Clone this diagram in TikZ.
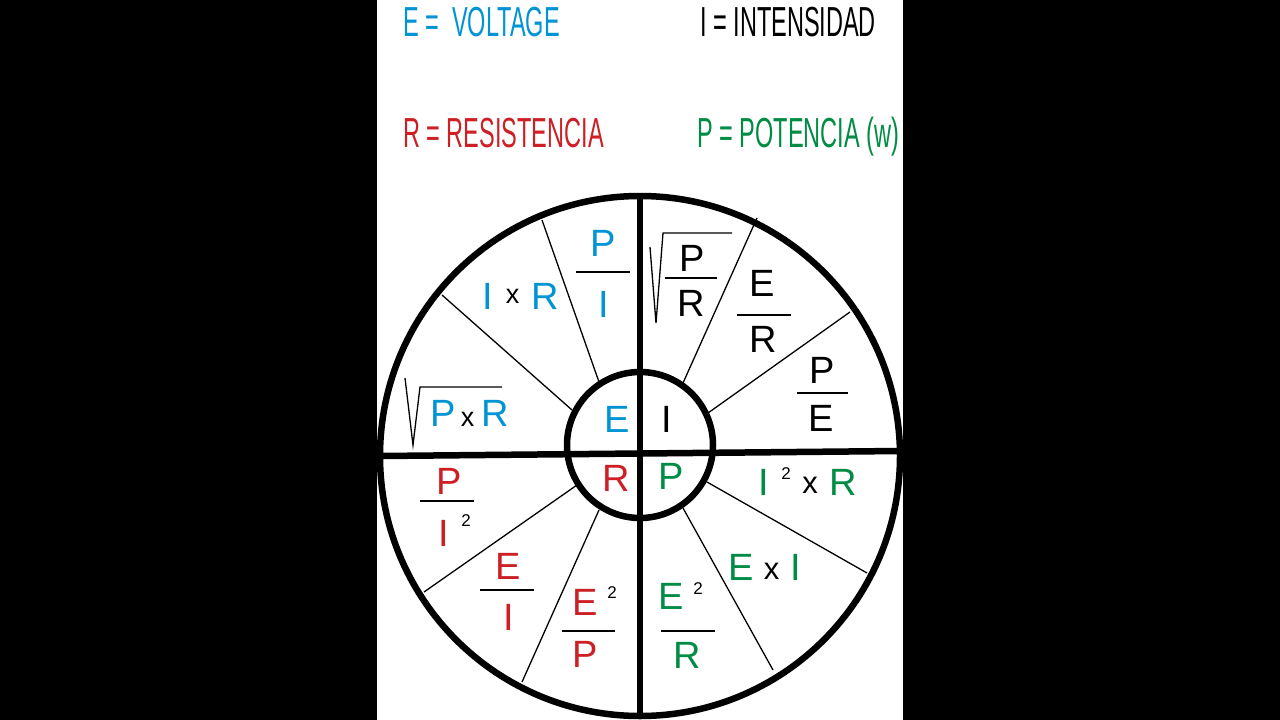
\documentclass[tikz,border=0pt]{standalone}
\usepackage{fontspec}
\setmainfont{Liberation Sans}
\newfontfamily\narrowfont[FakeStretch=0.56]{Liberation Sans}
\definecolor{volt}{RGB}{0,148,212}
\definecolor{resis}{RGB}{205,32,38}
\definecolor{poten}{RGB}{0,140,68}
\tikzset{
	letter/.style={inner sep=0pt, font=\fontsize{38}{40}\selectfont},
	keytext/.style={inner sep=0pt, anchor=base west, font=\narrowfont\fontsize{42}{46}\selectfont},
	xsign/.style={inner sep=0pt, font=\fontsize{27}{29}\selectfont},
	xsignbig/.style={inner sep=0pt, font=\fontsize{31}{33}\selectfont},
	sqr/.style={inner sep=0pt, font=\fontsize{17}{18}\selectfont},
	fbar/.style={line width=2.2pt},
	thinline/.style={line width=1.3pt},
	ring/.style={line width=6.5pt}
}

\begin{document}
\begin{tikzpicture}[x=1pt,y=-1pt]
				\useasboundingbox (0,0) rectangle (1280,720);
				\fill[black] (0,0) rectangle (1280,720);
				\fill[white] (377,0) rectangle (903,720);
				
				% what the letters mean
				\node[keytext, text=volt] (tE) at (403,36) {E =\ \ VOLTAGE};
				\node[keytext] (tI) at (700,36) {I = INTENSIDAD};
				\node[keytext, text=resis] (tR) at (403,147) {R = RESISTENCIA};
				\node[keytext, text=poten] (tP) at (697,147) {P = POTENCIA (w)};
				
				% the wheel
				\draw[thinline] (599,382) -- (542,220);
				\draw[thinline] (572,410) -- (442,295);
				\draw[thinline] (683,383) -- (757,218);
				\draw[thinline] (708,413) -- (850,312);
				\draw[thinline] (577,485) -- (424,592);
				\draw[thinline] (599,510) -- (522,682);
				\draw[thinline] (707,482) -- (867,573);
				\draw[thinline] (683,508) -- (773,670);
				\draw[ring] (640,456) circle [radius=260];
				\draw[ring] (640,445) circle [radius=73];
				\draw[ring] (640,196) -- (640,716);
				\draw[ring] (381,456) -- (900,451);
				
				% E
				\node[letter, text=volt] (P1) at (603,243) {P};
				\draw[fbar] (576,272) -- (630,272);
				\node[letter, text=volt] (I1) at (604,304) {I};
				\node[letter, text=volt] (I2) at (488,296) {I};
				\node[xsign] (x2) at (512.5,296.5) {x};
				\node[letter, text=volt] (R2) at (545,296) {R};
				\draw[thinline] (405,378) -- (413,445) -- (420,387) -- (502,387);
				\node[letter, text=volt] (P3) at (443.5,413.5) {P};
				\node[xsign] (x3) at (467.5,419) {x};
				\node[letter, text=volt] (R3) at (495,413.5) {R};
				
				% I
				\draw[thinline] (650,247) -- (656,323) -- (663,233) -- (732,233);
				\node[letter] (P4) at (692,258.5) {P};
				\draw[fbar] (665,278) -- (717,278);
				\node[letter] (R4) at (691,303.5) {R};
				\node[letter] (E5) at (762.5,283.5) {E};
				\draw[fbar] (737,315) -- (791,315);
				\node[letter] (R5) at (763.5,339.5) {R};
				\node[letter] (P6) at (822.5,370.5) {P};
				\draw[fbar] (797,393) -- (848,393);
				\node[letter] (E6) at (821,418) {E};
				
				% middle
				\node[letter, text=volt] (E) at (617.5,419.5) {E};
				\node[letter] (I) at (667,419.5) {I};
				\node[letter, text=resis] (R) at (616.5,478.5) {R};
				\node[letter, text=poten] (P) at (671,476) {P};
				
				% R
				\node[letter, text=resis] (P7) at (449,481) {P};
				\draw[fbar] (420,501) -- (474,501);
				\node[letter, text=resis] (I7) at (444,533.5) {I};
				\node[sqr] (s7) at (466,520.5) {2};
				\node[letter, text=resis] (E8) at (508.5,566) {E};
				\draw[fbar] (480,590) -- (534,590);
				\node[letter, text=resis] (I8) at (508.5,617) {I};
				\node[letter, text=resis] (E9) at (585,602) {E};
				\node[sqr] (s9) at (612,593) {2};
				\draw[fbar] (562,631) -- (615,631);
				\node[letter, text=resis] (P9) at (585.5,654.5) {P};
				
				% P
				\node[letter, text=poten] (I10) at (764,482.5) {I};
				\node[sqr] (s10) at (786,474) {2};
				\node[xsignbig] (x10) at (810,485) {x};
				\node[letter, text=poten] (R10) at (843,482.5) {R};
				\node[letter, text=poten] (E11) at (741.5,567) {E};
				\node[xsignbig] (x11) at (771.5,571) {x};
				\node[letter, text=poten] (I11) at (795.5,567) {I};
				\node[letter, text=poten] (E12) at (671,596.5) {E};
				\node[sqr] (s12) at (698,589) {2};
				\draw[fbar] (661,631) -- (715,631);
				\node[letter, text=poten] (R12) at (687,655.5) {R};
\end{tikzpicture}
\end{document}
